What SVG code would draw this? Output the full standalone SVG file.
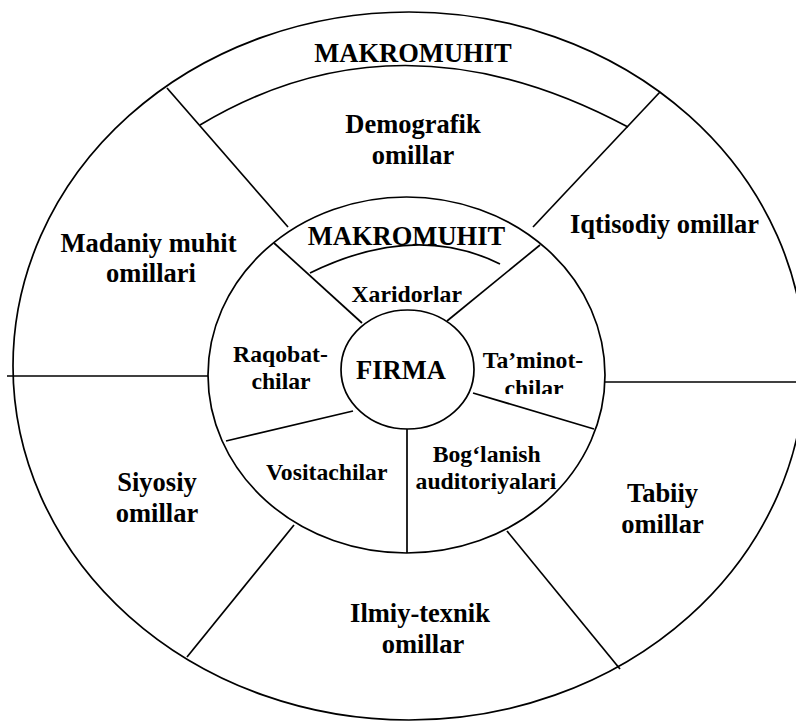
<svg xmlns="http://www.w3.org/2000/svg" width="796" height="723" viewBox="0 0 796 723">
<style>
.ln{fill:none;stroke:#000;stroke-width:1.7}
.o{font-family:"Liberation Serif","Times New Roman",serif;font-weight:bold;font-size:26.5px;text-anchor:middle;fill:#000}
.i{font-family:"Liberation Serif","Times New Roman",serif;font-weight:bold;font-size:23.7px;text-anchor:middle;fill:#000}
</style>
<defs>
<clipPath id="cut"><rect x="480" y="370" width="120" height="24"/></clipPath>
</defs>
<rect width="796" height="723" fill="#fff"/>
<g id="outer-ring">
<ellipse class="ln" cx="409" cy="366" rx="396" ry="354"/>
</g>
<g id="middle-ring">
<ellipse class="ln" cx="406.5" cy="375" rx="198.5" ry="178"/>
</g>
<g id="connectors">
<path class="ln" d="M200,125 Q400,5 628,127"/>
<path class="ln" d="M310,273 Q415,221.5 500,264"/>
<line class="ln" x1="167" y1="88" x2="288" y2="227"/>
<line class="ln" x1="660" y1="92" x2="533" y2="227"/>
<line class="ln" x1="7" y1="376" x2="208" y2="376"/>
<line class="ln" x1="605" y1="382" x2="796" y2="382"/>
<line class="ln" x1="187" y1="657" x2="294" y2="525"/>
<line class="ln" x1="507" y1="531" x2="620" y2="669"/>
<line class="ln" x1="274" y1="243" x2="362" y2="323"/>
<line class="ln" x1="540" y1="245" x2="447" y2="321"/>
<line class="ln" x1="226" y1="441" x2="353" y2="411"/>
<line class="ln" x1="473" y1="393" x2="594" y2="429"/>
<line class="ln" x1="407" y1="429" x2="407" y2="553"/>
</g>
<g id="firma">
<ellipse class="ln" cx="407.5" cy="369.5" rx="66.5" ry="59.5" fill="#fff"/>
<text class="o" x="401" y="379">FIRMA</text>
</g>
<g id="makromuhit-outer"><text class="o" x="413" y="62">MAKROMUHIT</text></g>
<g id="demografik"><text class="o" x="413" y="133">Demografik</text><text class="o" x="413" y="164">omillar</text></g>
<g id="iqtisodiy"><text class="o" x="664.5" y="233">Iqtisodiy omillar</text></g>
<g id="madaniy"><text class="o" x="148.5" y="251.5">Madaniy muhit</text><text class="o" x="151" y="282">omillari</text></g>
<g id="siyosiy"><text class="o" x="157" y="491">Siyosiy</text><text class="o" x="157" y="522">omillar</text></g>
<g id="tabiiy"><text class="o" x="662.5" y="502">Tabiiy</text><text class="o" x="662.5" y="533">omillar</text></g>
<g id="ilmiy"><text class="o" x="420" y="621.7">Ilmiy-texnik</text><text class="o" x="423" y="653">omillar</text></g>
<g id="makromuhit-inner"><text class="o" x="406.5" y="245">MAKROMUHIT</text></g>
<g id="xaridorlar"><text class="i" x="406.7" y="301.7">Xaridorlar</text></g>
<g id="raqobatchilar"><text class="i" x="280.5" y="361.7">Raqobat-</text><text class="i" x="281" y="389">chilar</text></g>
<g id="taminotchilar"><text class="i" x="533" y="368">Ta’minot-</text><text class="i" x="534" y="396" clip-path="url(#cut)">chilar</text></g>
<g id="vositachilar"><text class="i" x="326.7" y="480">Vositachilar</text></g>
<g id="boglanish"><text class="i" x="486.7" y="461.7">Bog‘lanish</text><text class="i" x="486" y="489.3">auditoriyalari</text></g>
</svg>
